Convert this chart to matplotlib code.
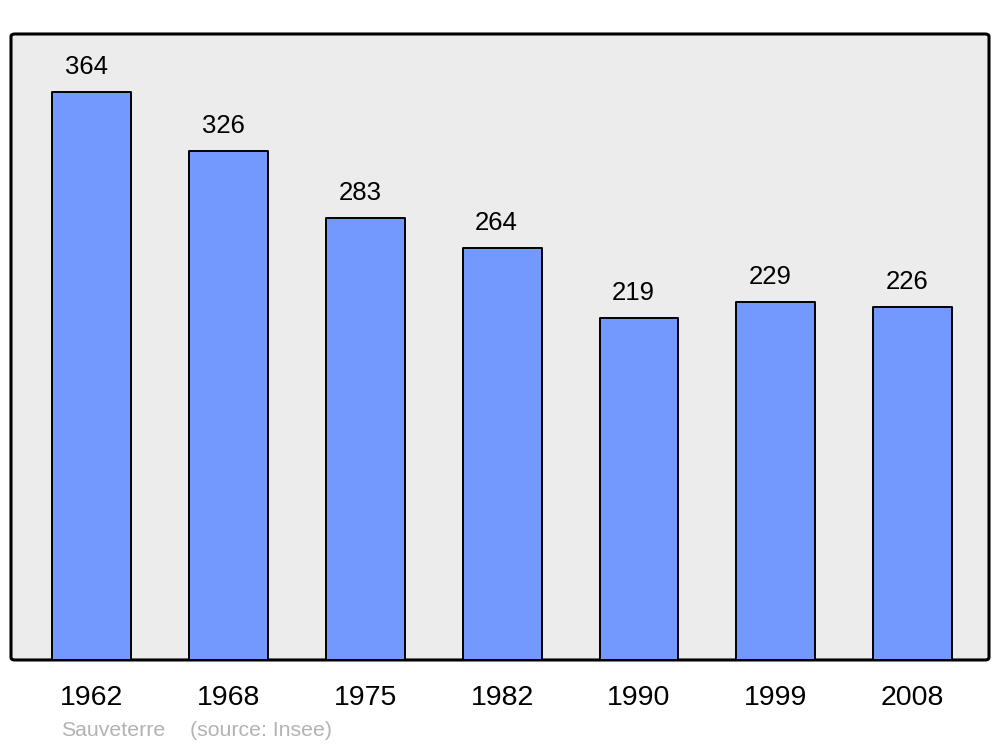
import matplotlib
matplotlib.use("Agg")
import matplotlib.pyplot as plt
from matplotlib.patches import FancyBboxPatch

years = ["1962", "1968", "1975", "1982", "1990", "1999", "2008"]
population = [364, 326, 283, 264, 219, 229, 226]
place = "Sauveterre"
source = "(source: Insee)"

plt.rcParams['font.family'] = ['Liberation Sans', 'DejaVu Sans']

fig = plt.figure(figsize=(10, 7.47), dpi=100)
ax = fig.add_axes([0.011, 0.1165, 0.978, 0.838])
ax.set_facecolor('none')

x = list(range(len(years)))
ax.set_xlim(-0.59, len(years) - 1 + 0.558)
ax.set_ylim(0, 401)

# background frame with rounded corners
frame = FancyBboxPatch((0, 0), 1, 1, boxstyle="round,pad=0,rounding_size=0.004",
                       transform=ax.transAxes, facecolor='#ececec', edgecolor='black',
                       linewidth=2.2, zorder=0, clip_on=False)
ax.add_patch(frame)
for s in ax.spines.values():
    s.set_visible(False)

bars = ax.bar(x, population, width=0.575, color='#7399ff', edgecolor='black',
              linewidth=1.4, zorder=2)
for b in bars:
    b.set_joinstyle('round')

for xi, v in zip(x, population):
    ax.annotate(str(v), (xi, v), xytext=(-4, 18), textcoords='offset points',
                ha='center', va='center', fontsize=18.5, color='black')

ax.set_xticks(x)
ax.set_xticklabels(years, fontsize=20.5)
ax.tick_params(axis='x', length=0, pad=18)
ax.set_yticks([])

fig.text(0.061, 1 - 731 / 747, place, fontsize=15.3, color='#b3b3b3', va='center', ha='left')
fig.text(0.190, 1 - 731 / 747, source, fontsize=15.3, color='#b3b3b3', va='center', ha='left')

fig.savefig('out.png', dpi=100)
